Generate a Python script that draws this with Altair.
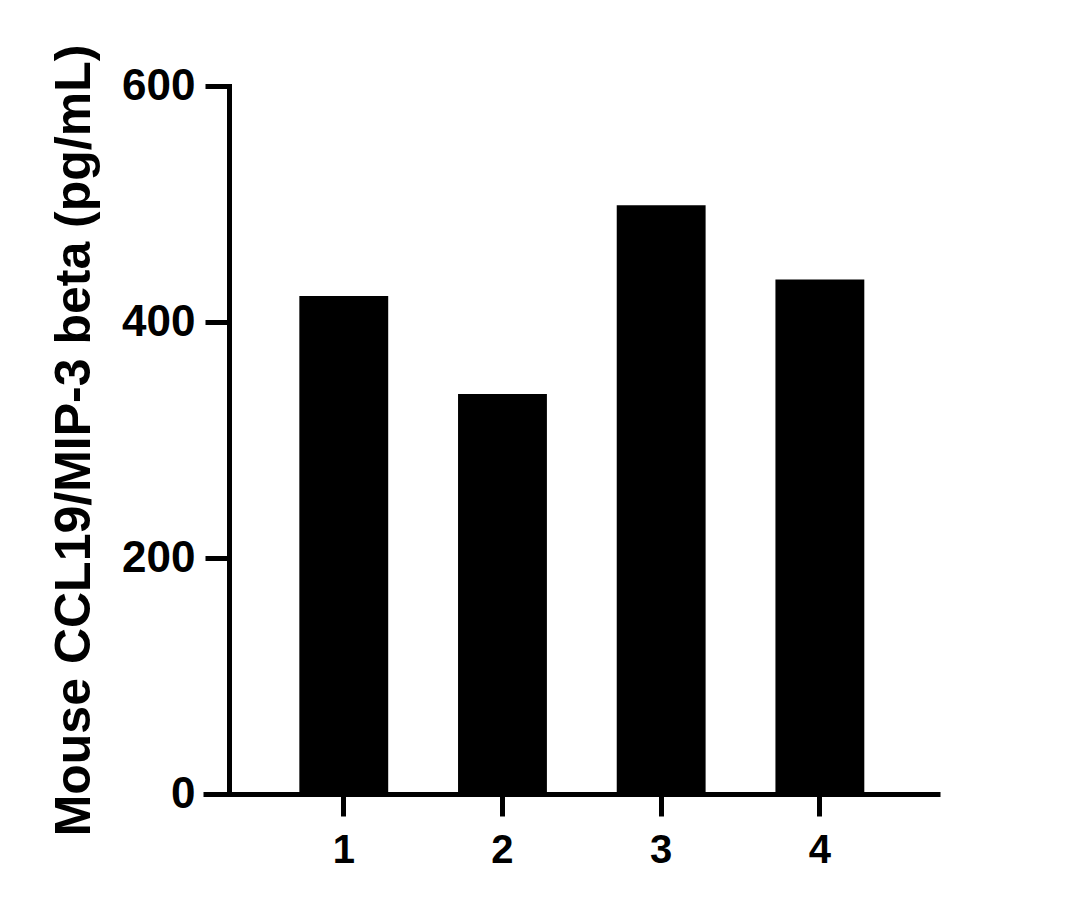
import altair as alt
import pandas as pd

categories = ["1", "2", "3", "4"]
values = [422, 339, 499, 436]

df = pd.DataFrame({"cat": categories, "val": values})

FONT = "Liberation Sans"

chart = alt.Chart(df).mark_bar(color="black").encode(
    x=alt.X("cat:N", sort=categories,
            scale=alt.Scale(paddingInner=0.44, paddingOuter=0.542, align=0.56),
            axis=alt.Axis(title=None, labelAngle=0, labelFont=FONT, labelFontSize=40,
                          labelFontWeight="bold", labelColor="black", labelPadding=14,
                          domainColor="black", domainWidth=5, tickColor="black",
                          tickWidth=5, tickSize=22, grid=False)),
    y=alt.Y("val:Q", scale=alt.Scale(domain=[0, 600], nice=False),
            axis=alt.Axis(title="Mouse CCL19/MIP-3 beta (pg/mL)", values=[0, 200, 400, 600],
                          offset=-26, titleFont=FONT, titleFontSize=50, titleFontWeight="bold",
                          titleColor="black", titlePadding=22,
                          labelFont=FONT, labelFontSize=44, labelFontWeight="bold",
                          labelColor="black", labelPadding=10,
                          domainColor="black", domainWidth=5, domainCap="square",
                          tickColor="black", tickWidth=5, tickSize=24, grid=False)),
).properties(
    width=737, height=708,
    autosize=alt.AutoSizeParams(type="none"),
    padding={"left": 195, "top": 78, "right": 120, "bottom": 100},
).configure(background="white").configure_view(strokeWidth=0, stroke="transparent")

chart.save("out.html", embed_options={"renderer": "svg", "actions": False})
